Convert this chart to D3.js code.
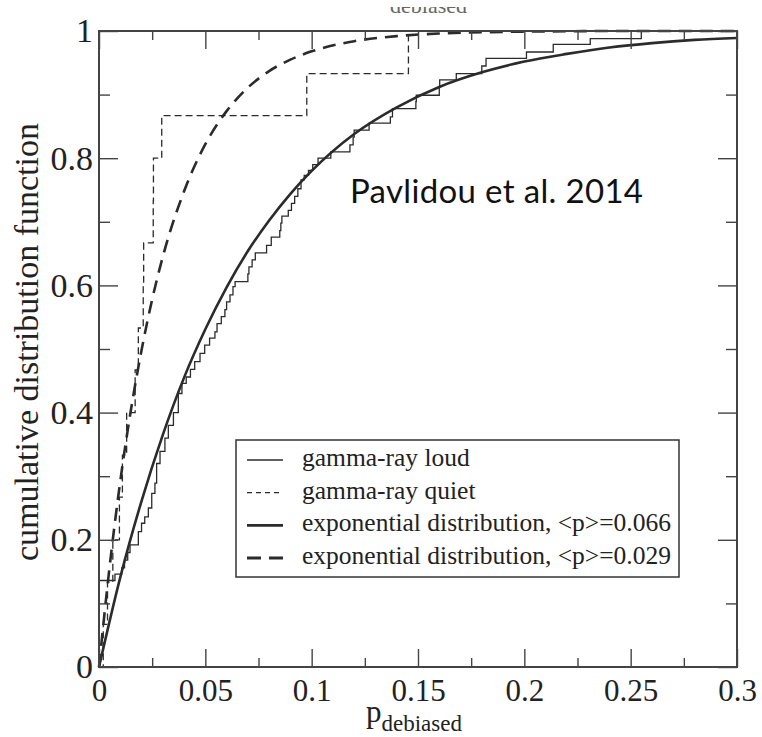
<!DOCTYPE html>
<html>
<head>
<meta charset="utf-8">
<script src="https://cdn.jsdelivr.net/npm/d3@7"></script>
<style>
  body { margin: 0; background: #fff; }
  svg { display: block; }
  .serif { font-family: "Liberation Serif", "Times New Roman", serif; fill: #222; }
</style>
</head>
<body>
<svg id="svg1" width="762" height="737"></svg>
<script>
// axis ticks
var xTicks = [0, 0.05, 0.1, 0.15, 0.2, 0.25, 0.3];
var xMinorTicks = [0.025, 0.075, 0.125, 0.175, 0.225, 0.275];
var yTicks = [0, 0.2, 0.4, 0.6, 0.8, 1];
var yMinorTicks = [0.1, 0.3, 0.5, 0.7, 0.9];

// empirical CDF, gamma-ray loud (p at each step, level after step)
var loudP = [0, 0, 0.0075, 0.0107, 0.0120, 0.0135, 0.0146, 0.0185, 0.0200, 0.0215, 0.0232, 0.0248, 0.0263, 0.0271, 0.0287, 0.0310, 0.0326, 0.0350, 0.0373, 0.0390, 0.0410, 0.0430, 0.0450, 0.0475, 0.0497, 0.0520, 0.0545, 0.0555, 0.0575, 0.0592, 0.0600, 0.0616, 0.0630, 0.0640, 0.0700, 0.0705, 0.0720, 0.0735, 0.0788, 0.0810, 0.0850, 0.0855, 0.0860, 0.0890, 0.0905, 0.0920, 0.0935, 0.0950, 0.0965, 0.0985, 0.1005, 0.1030, 0.1090, 0.1180, 0.1195, 0.1200, 0.1270, 0.1370, 0.1380, 0.1490, 0.1492, 0.1600, 0.1602, 0.1680, 0.1800, 0.1820, 0.2010, 0.2136, 0.2310, 0.2550, 0.3000];
var loudF = [0, 0.136, 0.146, 0.156, 0.168, 0.180, 0.192, 0.213, 0.226, 0.236, 0.250, 0.273, 0.289, 0.320, 0.339, 0.360, 0.380, 0.400, 0.430, 0.446, 0.456, 0.468, 0.480, 0.493, 0.506, 0.517, 0.527, 0.540, 0.551, 0.562, 0.574, 0.585, 0.598, 0.606, 0.618, 0.629, 0.640, 0.651, 0.663, 0.676, 0.686, 0.698, 0.709, 0.718, 0.729, 0.740, 0.752, 0.766, 0.773, 0.781, 0.790, 0.800, 0.810, 0.821, 0.833, 0.844, 0.855, 0.865, 0.878, 0.889, 0.899, 0.911, 0.923, 0.933, 0.945, 0.957, 0.967, 0.979, 0.988, 1.0, 1.0];

// empirical CDF, gamma-ray quiet
var quietP = [0, 0.0020, 0.0040, 0.0065, 0.0096, 0.0110, 0.0130, 0.0170, 0.0185, 0.0208, 0.0210, 0.0255, 0.0256, 0.0295, 0.0977, 0.1455, 0.3];
var quietF = [0, 0.067, 0.133, 0.200, 0.267, 0.333, 0.400, 0.467, 0.533, 0.600, 0.667, 0.733, 0.800, 0.867, 0.933, 1.0, 1.0];

// exponential distribution <p>=0.066
var expLoudP = [0, 0.01, 0.02, 0.03, 0.04, 0.05, 0.06, 0.07, 0.08, 0.09, 0.10, 0.12, 0.14, 0.16, 0.18, 0.20, 0.22, 0.24, 0.26, 0.28, 0.30];
var expLoudF = [0, 0.141, 0.261, 0.365, 0.455, 0.531, 0.597, 0.654, 0.702, 0.744, 0.780, 0.838, 0.880, 0.912, 0.935, 0.952, 0.964, 0.974, 0.981, 0.986, 0.989];

// exponential distribution <p>=0.029
var expQuietP = [0, 0.005, 0.01, 0.015, 0.02, 0.025, 0.03, 0.04, 0.05, 0.06, 0.07, 0.08, 0.09, 0.10, 0.12, 0.14, 0.16, 0.18, 0.20, 0.25, 0.30];
var expQuietF = [0, 0.158, 0.292, 0.404, 0.498, 0.578, 0.645, 0.748, 0.822, 0.874, 0.911, 0.937, 0.955, 0.968, 0.984, 0.992, 0.996, 0.998, 0.999, 1.0, 1.0];

var legendLabels = ['gamma-ray loud', 'gamma-ray quiet', 'exponential distribution, <p>=0.066', 'exponential distribution, <p>=0.029'];

var x0 = 99, x1 = 737, y0 = 667, y1 = 31;
var scaleX = d3.scaleLinear().domain([0, 0.3]).range([x0, x1]);
var scaleY = d3.scaleLinear().domain([0, 1]).range([y0, y1]);

var svg = d3.select('#svg1');
var ink = '#2b2b2b';

function zip(a, b) { return a.map(function(d, i) { return [d, b[i]]; }); }

var stepLine = d3.line()
    .x(function(d){ return scaleX(d[0]); })
    .y(function(d){ return scaleY(d[1]); })
    .curve(d3.curveStepAfter);

var smoothLine = d3.line()
    .x(function(d){ return scaleX(d[0]); })
    .y(function(d){ return scaleY(d[1]); })
    .curve(d3.curveMonotoneX);

// cut-off text at top of the image
svg.append('text')
    .attr('class', 'serif')
    .attr('x', 390).attr('y', 13)
    .style('font-size', '22px')
    .style('fill', '#666')
    .text('debiased');
svg.append('rect').attr('x', 0).attr('y', 0).attr('width', 762).attr('height', 7).attr('fill', '#fff');

// curves
svg.append('path')
    .datum(zip(expQuietP, expQuietF))
    .attr('d', smoothLine)
    .attr('fill', 'none')
    .attr('stroke', ink)
    .attr('stroke-width', 2.6)
    .attr('stroke-dasharray', '13,8');

svg.append('path')
    .datum(zip(quietP, quietF))
    .attr('d', stepLine)
    .attr('fill', 'none')
    .attr('stroke', ink)
    .attr('stroke-width', 1.3)
    .attr('stroke-dasharray', '7,4');

svg.append('path')
    .datum(zip(expLoudP, expLoudF))
    .attr('d', smoothLine)
    .attr('fill', 'none')
    .attr('stroke', ink)
    .attr('stroke-width', 2.6);

svg.append('path')
    .datum(zip(loudP, loudF))
    .attr('d', stepLine)
    .attr('fill', 'none')
    .attr('stroke', ink)
    .attr('stroke-width', 1.3);

// axes: ticks pointing inward on all sides
function styleAxis(g) {
    g.select('.domain').remove();
    g.selectAll('line').attr('stroke', '#444').attr('stroke-width', 1.4);
}

svg.append('g')
    .attr('transform', 'translate(0,' + y0 + ')')
    .call(d3.axisBottom(scaleX).tickValues(xTicks).tickSize(-18).tickPadding(12).tickFormat(d3.format('~g')))
    .call(styleAxis)
    .selectAll('text')
    .attr('class', 'serif')
    .style('font-size', '31px');

svg.append('g')
    .attr('transform', 'translate(0,' + y0 + ')')
    .call(d3.axisBottom(scaleX).tickValues(xMinorTicks).tickSize(-9).tickFormat(''))
    .call(styleAxis);

svg.append('g')
    .attr('transform', 'translate(0,' + y1 + ')')
    .call(d3.axisTop(scaleX).tickValues(xTicks).tickSize(-18).tickFormat(''))
    .call(styleAxis);

svg.append('g')
    .attr('transform', 'translate(0,' + y1 + ')')
    .call(d3.axisTop(scaleX).tickValues(xMinorTicks).tickSize(-9).tickFormat(''))
    .call(styleAxis);

svg.append('g')
    .attr('transform', 'translate(' + x0 + ',0)')
    .call(d3.axisLeft(scaleY).tickValues(yTicks).tickSize(-19).tickPadding(6).tickFormat(d3.format('~g')))
    .call(styleAxis)
    .selectAll('text')
    .attr('class', 'serif')
    .style('font-size', '34px');

svg.append('g')
    .attr('transform', 'translate(' + x0 + ',0)')
    .call(d3.axisLeft(scaleY).tickValues(yMinorTicks).tickSize(-11).tickFormat(''))
    .call(styleAxis);

svg.append('g')
    .attr('transform', 'translate(' + x1 + ',0)')
    .call(d3.axisRight(scaleY).tickValues(yTicks).tickSize(-19).tickFormat(''))
    .call(styleAxis);

svg.append('g')
    .attr('transform', 'translate(' + x1 + ',0)')
    .call(d3.axisRight(scaleY).tickValues(yMinorTicks).tickSize(-11).tickFormat(''))
    .call(styleAxis);

// frame
svg.append('rect')
    .attr('x', x0).attr('y', y1)
    .attr('width', x1 - x0).attr('height', y0 - y1)
    .attr('fill', 'none')
    .attr('stroke', '#444')
    .attr('stroke-width', 2);

// axis titles
svg.append('text')
    .attr('class', 'serif')
    .attr('transform', 'translate(38,' + 342 + ')rotate(270)')
    .style('text-anchor', 'middle')
    .style('font-size', '34px')
    .text('cumulative distribution function');

var xl = svg.append('text')
    .attr('class', 'serif')
    .attr('x', 366).attr('y', 722)
    .style('font-size', '31px');
xl.append('tspan').text('p');
xl.append('tspan').attr('dy', 9).style('font-size', '23px').text('debiased');

// annotation
svg.append('text')
    .attr('x', 350).attr('y', 203)
    .attr('textLength', 293)
    .style('font-family', 'Lato, "Open Sans", sans-serif')
    .style('font-size', '33px')
    .style('fill', '#111')
    .text('Pavlidou et al. 2014');

// legend
var legend = svg.append('g');
legend.append('rect')
    .attr('x', 236).attr('y', 440)
    .attr('width', 443).attr('height', 137)
    .attr('fill', '#fff')
    .attr('stroke', '#333')
    .attr('stroke-width', 1.5);

var legendStyles = [
    { w: 1.3, dash: null },
    { w: 1.3, dash: '5,4' },
    { w: 2.8, dash: null },
    { w: 2.8, dash: '14,8' }
];
var rowY = d3.scalePoint().domain(d3.range(legendLabels.length)).range([460, 558]);

legendLabels.forEach(function(label, i) {
    var yy = rowY(i);
    legend.append('line')
        .attr('x1', 247).attr('x2', 283)
        .attr('y1', yy).attr('y2', yy)
        .attr('stroke', ink)
        .attr('stroke-width', legendStyles[i].w)
        .attr('stroke-dasharray', legendStyles[i].dash);
    legend.append('text')
        .attr('class', 'serif')
        .attr('x', 302).attr('y', yy + 6)
        .style('font-size', '25.5px')
        .text(label);
});
</script>
</body>
</html>
